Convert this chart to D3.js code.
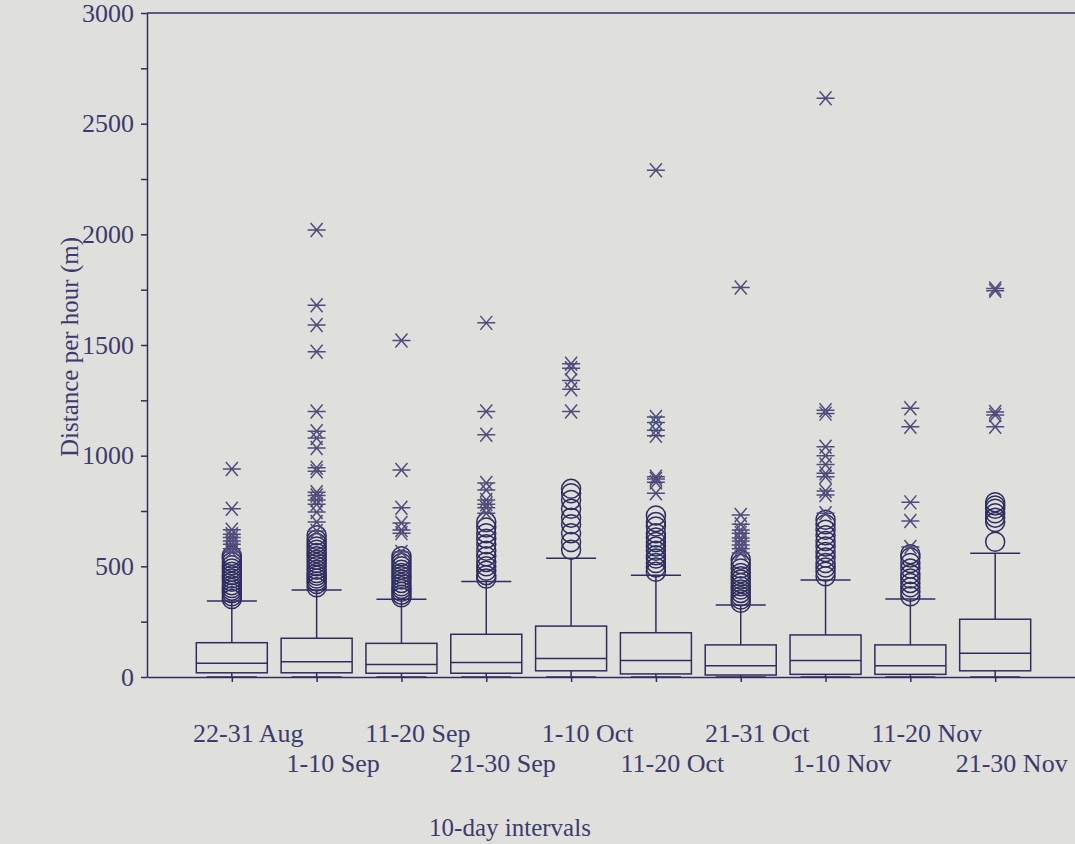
<!DOCTYPE html>
<html>
<head>
<meta charset="utf-8">
<script src="https://cdn.jsdelivr.net/npm/d3@7"></script>
<style>
  body { margin: 0; background: #dfe0dc; }
  svg { display: block; }
  .axis text { font-family: 'Liberation Serif', serif; font-size: 26px; fill: #3c3a6e; }
  .axis path, .axis line { stroke: #2f2c60; stroke-width: 1.5; }
</style>
</head>
<body>
<div id="chart"></div>
<script>
// 10-day intervals
const categories = ['22-31 Aug', '1-10 Sep', '11-20 Sep', '21-30 Sep', '1-10 Oct',
  '11-20 Oct', '21-31 Oct', '1-10 Nov', '11-20 Nov', '21-30 Nov'];

// box statistics (m per hour)
const lowWhisker = [0, 0, 0, 0, 0, 0, 0, 0, 0, 0];
const q1 = [19, 19, 17, 17, 28, 14, 9, 12, 12, 28];
const medians = [62, 69, 57, 65, 84, 74, 51, 74, 51, 107];
const q3 = [155, 175, 152, 193, 230, 200, 145, 190, 145, 261];
const highWhisker = [343, 393, 351, 431, 536, 460, 325, 438, 352, 559];

// outliers (circles)
const outliers = [
  [352, 365, 378, 390, 402, 415, 430, 445, 460, 475, 490, 505, 520, 535, 548],
  [405, 420, 432, 445, 458, 470, 485, 500, 515, 530, 545, 560, 575, 590, 605, 620, 640],
  [360, 372, 385, 398, 410, 425, 440, 455, 470, 485, 500, 515, 530, 545],
  [445, 460, 480, 500, 520, 545, 570, 600, 625, 650, 675, 700],
  [575, 610, 650, 690, 720, 760, 800, 830, 850],
  [475, 495, 515, 535, 550, 570, 590, 610, 630, 650, 680, 700, 730],
  [335, 350, 365, 380, 395, 410, 425, 440, 455, 470, 490, 510, 530],
  [455, 475, 495, 515, 540, 565, 590, 615, 640, 665, 690, 710],
  [365, 385, 405, 425, 445, 465, 490, 515, 540, 555],
  [611, 700, 720, 740, 760, 775, 790]
];

// extreme values (stars)
const extremes = [
  [565, 580, 600, 615, 630, 645, 665, 760, 940],
  [660, 700, 745, 780, 800, 820, 835, 930, 945, 1035, 1080, 1110, 1200, 1470, 1590, 1680, 2020],
  [565, 650, 664, 696, 765, 935, 1520],
  [740, 765, 780, 800, 845, 876, 1095, 1200, 1600],
  [1200, 1300, 1340, 1395, 1415],
  [830, 880, 895, 905, 1090, 1115, 1150, 1175, 2290],
  [560, 580, 596, 615, 628, 650, 664, 690, 732, 1760],
  [740, 822, 840, 905, 920, 960, 1000, 1040, 1190, 1205, 2615],
  [587, 705, 789, 1131, 1214],
  [1131, 1184, 1197, 1745, 1755]
];

const yTicks = [0, 250, 500, 750, 1000, 1250, 1500, 1750, 2000, 2250, 2500, 2750, 3000];

const width = 1075;
const height = 844;
const ink = '#2f2c60';

const boxes = categories.map((c, i) => ({
  name: c, i: i + 1,
  lo: lowWhisker[i], q1: q1[i], med: medians[i], q3: q3[i], hi: highWhisker[i]
}));

const x = d3.scaleLinear().domain([0, 11]).range([147, 1080]);
const y = d3.scaleLinear().domain([0, 3000]).range([677, 13]);

const svg = d3.select('#chart').append('svg')
  .attr('width', width)
  .attr('height', height);

svg.append('rect').attr('width', width).attr('height', height).attr('fill', '#dfe0dc');

// top frame line
svg.append('line')
  .attr('x1', x(0)).attr('x2', x(11))
  .attr('y1', y(3000)).attr('y2', y(3000))
  .attr('stroke', ink).attr('stroke-width', 1.5);

svg.append('g')
  .attr('class', 'axis yaxis')
  .attr('transform', `translate(${x(0)},0)`)
  .call(d3.axisLeft(y)
    .tickValues(yTicks)
    .tickFormat((d) => (d % 500 === 0 ? d : ''))
    .tickSize(6)
    .tickSizeOuter(0)
    .tickPadding(7));

const xAxis = svg.append('g')
  .attr('class', 'axis xaxis')
  .attr('transform', `translate(0,${y(0)})`)
  .call(d3.axisBottom(x)
    .tickValues(d3.range(1, 11))
    .tickFormat((d) => categories[d - 1])
    .tickSize(5)
    .tickSizeOuter(0));

// staggered labels, set a little right of the ticks as in the original
xAxis.selectAll('.tick text')
  .attr('dy', 0)
  .attr('x', 16)
  .attr('y', (d) => (d % 2 === 1 ? 65 : 95));

const bw = 71;
const capw = 50;

const g = svg.append('g')
  .attr('fill', 'none')
  .attr('stroke', ink)
  .attr('stroke-width', 1.5);

const box = g.selectAll('.box')
  .data(boxes)
  .enter()
  .append('g')
  .attr('class', 'box');

// whiskers
box.append('line')
  .attr('x1', (d) => x(d.i)).attr('x2', (d) => x(d.i))
  .attr('y1', (d) => y(d.q3)).attr('y2', (d) => y(d.hi));
box.append('line')
  .attr('x1', (d) => x(d.i)).attr('x2', (d) => x(d.i))
  .attr('y1', (d) => y(d.q1)).attr('y2', (d) => y(d.lo));
box.append('line')
  .attr('x1', (d) => x(d.i) - capw / 2).attr('x2', (d) => x(d.i) + capw / 2)
  .attr('y1', (d) => y(d.hi)).attr('y2', (d) => y(d.hi));
box.append('line')
  .attr('x1', (d) => x(d.i) - capw / 2).attr('x2', (d) => x(d.i) + capw / 2)
  .attr('y1', (d) => y(d.lo)).attr('y2', (d) => y(d.lo));

box.append('rect')
  .attr('x', (d) => x(d.i) - bw / 2)
  .attr('y', (d) => y(d.q3))
  .attr('width', bw)
  .attr('height', (d) => y(d.q1) - y(d.q3));

box.append('line')
  .attr('x1', (d) => x(d.i) - bw / 2).attr('x2', (d) => x(d.i) + bw / 2)
  .attr('y1', (d) => y(d.med)).attr('y2', (d) => y(d.med));

// circles
box.selectAll('circle')
  .data((d, i) => outliers[i].map((v) => ({ i: d.i, v })))
  .enter()
  .append('circle')
  .attr('cx', (d) => x(d.i))
  .attr('cy', (d) => y(d.v))
  .attr('r', 9.5);

// stars
const star = 'M-9,0H9M-6,-7L6,7M-6,7L6,-7';
box.selectAll('.star')
  .data((d, i) => extremes[i].map((v) => ({ i: d.i, v })))
  .enter()
  .append('path')
  .attr('class', 'star')
  .attr('d', star)
  .attr('stroke', '#4f4c7c')
  .attr('transform', (d) => `translate(${x(d.i)},${y(d.v)})`);

// axis titles
svg.append('text')
  .attr('transform', `translate(78,${(y(0) + y(3000)) / 2 + 2}) rotate(-90)`)
  .attr('text-anchor', 'middle')
  .style('font-family', 'Liberation Serif, serif')
  .style('font-size', '25px')
  .style('fill', '#3c3a6e')
  .text('Distance per hour (m)');

svg.append('text')
  .attr('x', 510)
  .attr('y', 836)
  .attr('text-anchor', 'middle')
  .style('font-family', 'Liberation Serif, serif')
  .style('font-size', '25px')
  .style('fill', '#3c3a6e')
  .text('10-day intervals');
</script>
</body>
</html>
